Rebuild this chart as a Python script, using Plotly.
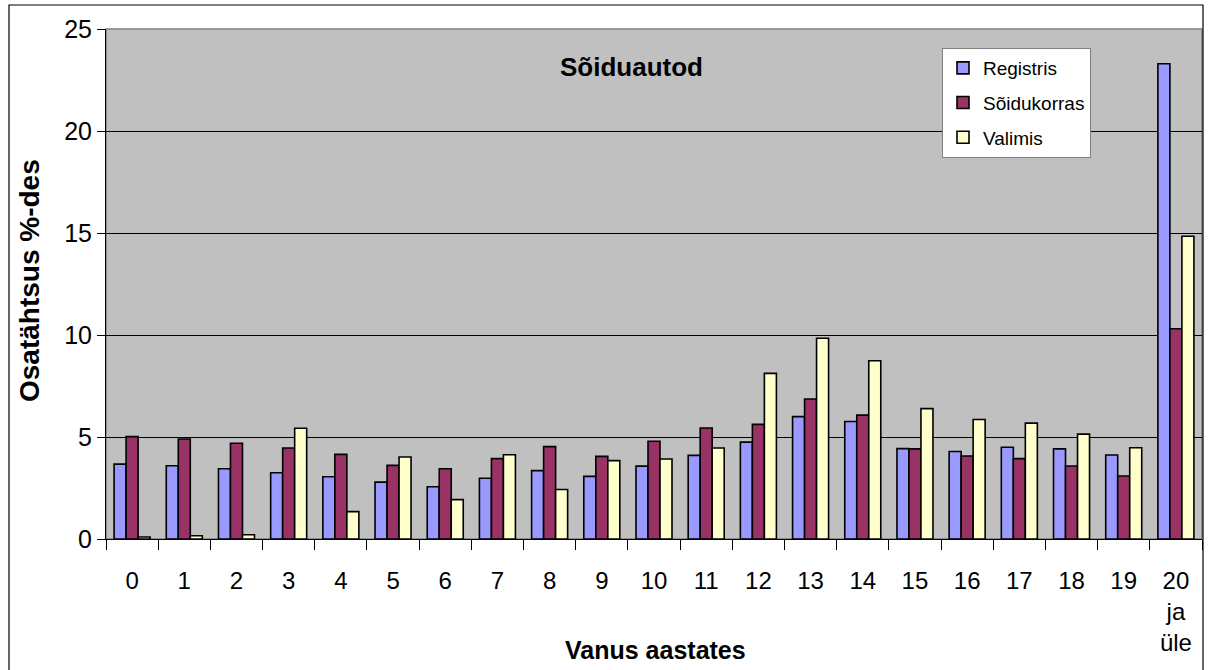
import plotly.graph_objects as go

categories = [str(i) for i in range(20)] + ["20<br>ja<br>üle"]
registris = [3.67, 3.59, 3.44, 3.25, 3.05, 2.79, 2.56, 2.98, 3.35, 3.07, 3.57,
             4.10, 4.75, 6.00, 5.76, 4.43, 4.29, 4.50, 4.42, 4.12, 23.3]
soidukorras = [5.02, 4.90, 4.69, 4.46, 4.15, 3.61, 3.44, 3.94, 4.53, 4.05, 4.79,
               5.44, 5.62, 6.86, 6.07, 4.42, 4.07, 3.94, 3.58, 3.09, 10.31]
valimis = [0.10, 0.16, 0.21, 5.43, 1.34, 4.02, 1.93, 4.13, 2.43, 3.84, 3.92,
           4.46, 8.12, 9.84, 8.74, 6.39, 5.86, 5.68, 5.14, 4.47, 14.84]

series = [
    ("Registris", registris, "#9999FF"),
    ("Sõidukorras", soidukorras, "#993366"),
    ("Valimis", valimis, "#FFFFCC"),
]

FONT = "Liberation Sans, Arial, sans-serif"

fig = go.Figure()
for name, vals, col in series:
    fig.add_trace(go.Bar(
        x=categories, y=vals, name=name, legendgroup=name,
        marker=dict(color=col, line=dict(color="black", width=1.6)),
    ))

W, H = 1208, 670
L, R, T, B = 106, 6, 29, 131
pw, ph = W - L - R, H - T - B

def px(x):
    return (x - L) / pw

def py(y):
    return (H - B - y) / ph

fig.update_layout(
    width=W, height=H,
    margin=dict(l=L, r=R, t=T, b=B),
    paper_bgcolor="white",
    plot_bgcolor="#C0C0C0",
    barmode="group",
    bargap=0.31,
    bargroupgap=0.0,
    font=dict(family=FONT, color="black"),
    showlegend=True,
    legend=dict(
        x=px(942), y=py(48), xanchor="left", yanchor="top",
        bgcolor="white", bordercolor="#808080", borderwidth=1,
        font=dict(size=19, family=FONT),
        tracegroupgap=7, itemwidth=30,
    ),
    xaxis=dict(
        type="category",
        tickson="boundaries",
        ticks="outside", ticklen=10, tickcolor="black", tickwidth=1,
        showline=True, linecolor="black", linewidth=1,
        showgrid=False,
        tickfont=dict(size=24, family=FONT),
        ticklabelstandoff=20,
    ),
    yaxis=dict(
        range=[0, 25],
        tickvals=[0, 5, 10, 15, 20, 25],
        ticks="outside", ticklen=8, tickcolor="black",
        showline=True, linecolor="black", linewidth=1,
        showgrid=True, gridcolor="black", gridwidth=1,
        zeroline=False,
        tickfont=dict(size=25, family=FONT),
    ),
    annotations=[
        dict(text="<b>Sõiduautod</b>", xref="paper", yref="paper",
             x=px(631), y=py(67), xanchor="center", yanchor="middle",
             showarrow=False, font=dict(size=26, family=FONT)),
        dict(text="<b>Osatähtsus %-des</b>", xref="paper", yref="paper",
             x=px(29), y=py(281), xanchor="center", yanchor="middle",
             textangle=-90, showarrow=False, font=dict(size=28, family=FONT)),
        dict(text="<b>Vanus aastates</b>", xref="paper", yref="paper",
             x=px(655), y=py(650), xanchor="center", yanchor="middle",
             showarrow=False, font=dict(size=25, family=FONT)),
    ],
    shapes=[
        dict(type="rect", xref="paper", yref="paper",
             x0=0, x1=1, y0=0, y1=1,
             line=dict(color="#808080", width=1.5), layer="below"),
        dict(type="rect", xref="paper", yref="paper",
             x0=px(9), x1=px(1203), y0=py(675), y1=py(5),
             line=dict(color="black", width=1.2)),
    ],
)

fig.write_html("out.html", config={"displayModeBar": False},
               post_script="document.body.style.margin='0px';")
